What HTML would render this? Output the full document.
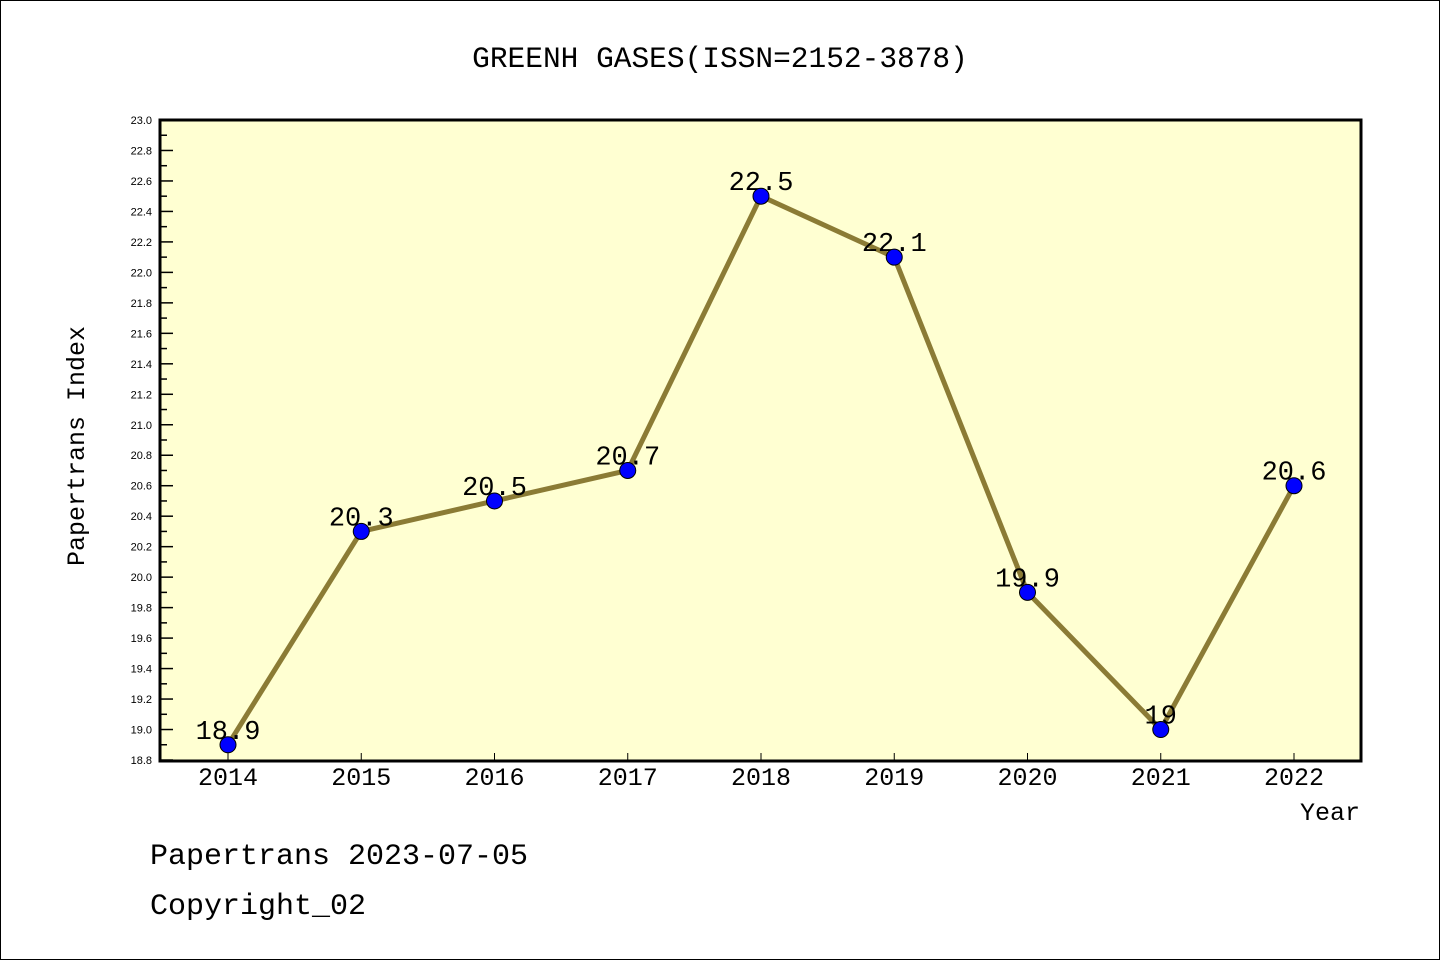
<!DOCTYPE html>
<html><head><meta charset="utf-8"><style>
body{margin:0;background:#fff}
svg{display:block;font-family:"Liberation Mono","Noto Sans CJK SC",monospace}
</style></head><body>
<svg id="c" width="1440" height="960">
<rect x="0.5" y="0.5" width="1439" height="959" fill="#fff" stroke="#000"/>
<text x="720" y="67" font-size="29.5" text-anchor="middle">GREENH GASES(ISSN=2152-3878)</text>
<rect x="160" y="120" width="1201" height="641" fill="#ffffd2" stroke="#000" stroke-width="3"/>
<g id="yax"></g><g id="xax"></g><g id="series"></g>
<text transform="translate(84,446) rotate(-90)" font-size="25" text-anchor="middle">Papertrans Index</text>
<text x="1360" y="820" font-size="25" text-anchor="end">Year</text>
<text x="150" y="864" font-size="30">Papertrans 2023-07-05</text>
<text x="150" y="914" font-size="30">Copyright_02</text>
</svg>
<script>
const years=["2014","2015","2016","2017","2018","2019","2020","2021","2022"];
const values=[18.9,20.3,20.5,20.7,22.5,22.1,19.9,19.0,20.6];
const labels=["18.9","20.3","20.5","20.7","22.5","22.1","19.9","19","20.6"];
const yMin=18.8,yMax=23.0;
const NS="http://www.w3.org/2000/svg";
const yS=v=>760-(v-yMin)/(yMax-yMin)*640;
const xS=i=>228+i*133.25;
function mk(t,a,p){const e=document.createElementNS(NS,t);for(const k in a)e.setAttribute(k,a[k]);p.appendChild(e);return e;}
const ya=document.getElementById('yax');
for(let k=0;k<=42;k++){const v=yMin+k*0.1,y=yS(v),maj=k%2==0;
 const l=mk('line',{x1:160,x2:maj?173:167,y1:y,y2:y,stroke:'#000','stroke-width':1.5},ya);
 
 
 if(maj){const t=mk('text',{x:152,y:y+4,'font-size':11,'text-anchor':'end','font-family':'Liberation Sans, sans-serif'},ya);t.textContent=v.toFixed(1);
 
 }}
const xa=document.getElementById('xax');
years.forEach((yr,i)=>{const x=xS(i);
 const l=mk('line',{x1:x,x2:x,y1:760,y2:753,stroke:'#000','stroke-width':1},xa);
 
 
 const t=mk('text',{x:x,y:785,'font-size':25,'text-anchor':'middle'},xa);t.textContent=yr;
 
 });
const s=document.getElementById('series');
const pl=mk('polyline',{points:values.map((v,i)=>xS(i)+','+yS(v)).join(' '),fill:'none',stroke:'#8b7b35','stroke-width':5},s);


values.forEach((v,i)=>{const t=mk('text',{x:xS(i),y:yS(v)-6,'font-size':27,'text-anchor':'middle'},s);t.textContent=labels[i];
 
 });
values.forEach((v,i)=>{const c=mk('circle',{cx:xS(i),cy:yS(v),r:8,fill:'#0000ff',stroke:'#000','stroke-width':1},s);
 
 });
</script>
</body></html>
